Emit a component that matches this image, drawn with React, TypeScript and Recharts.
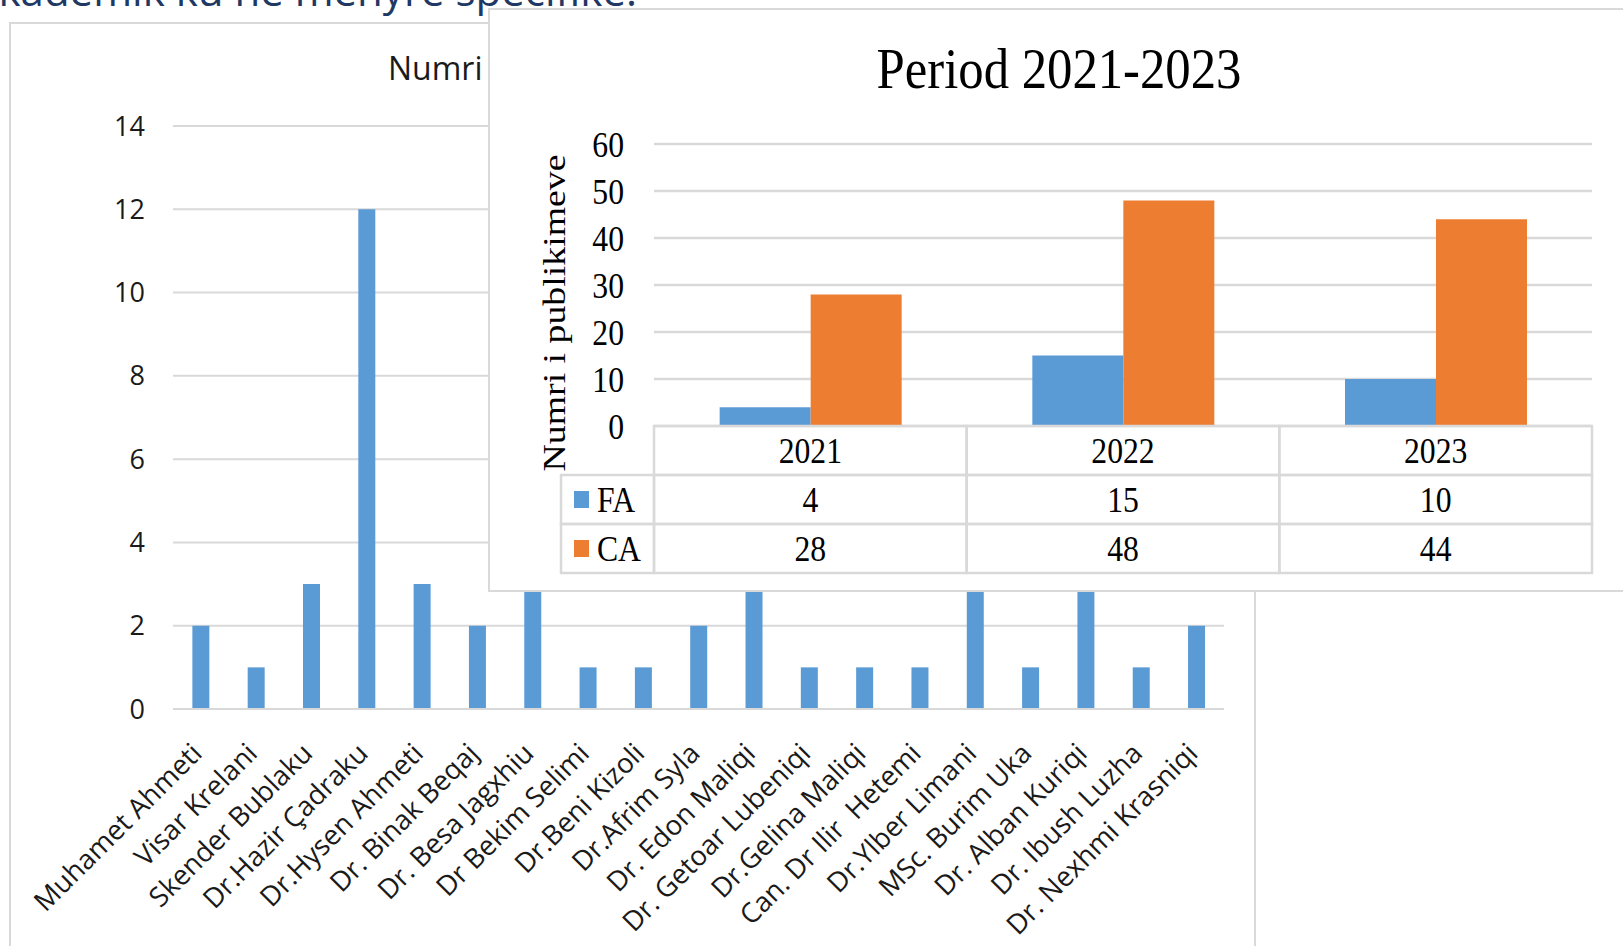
import React from 'react';
import { BarChart, Bar, XAxis, YAxis, CartesianGrid } from 'recharts';

// ---- Background chart data (publications per staff member) ----
const staffNames = [
  'Muhamet Ahmeti',
  'Visar Krelani',
  'Skender Bublaku',
  'Dr.Hazir Çadraku',
  'Dr.Hysen Ahmeti',
  'Dr. Binak Beqaj',
  'Dr. Besa Jagxhiu',
  'Dr Bekim Selimi',
  'Dr.Beni Kizoli',
  'Dr.Afrim Syla',
  'Dr. Edon Maliqi',
  'Dr. Getoar Lubeniqi',
  'Dr.Gelina Maliqi',
  'Can. Dr Ilir\u00A0 Hetemi',
  'Dr.Ylber Limani',
  'MSc. Burim Uka',
  'Dr. Alban Kuriqi',
  'Dr. Ibush Luzha',
  'Dr. Nexhmi Krasniqi',
];
const staffCounts = [2, 1, 3, 12, 3, 2, 3, 1, 1, 2, 3, 1, 1, 1, 3, 1, 3, 1, 2];
const staffTicks = [0, 2, 4, 6, 8, 10, 12, 14];

// ---- Overlay chart data (Period 2021-2023) ----
const years = ['2021', '2022', '2023'];
const faValues = [4, 15, 10];
const caValues = [28, 48, 44];
const periodTicks = [0, 10, 20, 30, 40, 50, 60];
const seriesNames = ['FA', 'CA'];

const staffData = staffNames.map((name, i) => ({ name, value: staffCounts[i] }));
const periodData = years.map((year, i) => ({ year, FA: faValues[i], CA: caValues[i] }));

const BLUE = '#5B9BD5';
const ORANGE = '#ED7D31';
const GRID = '#D9D9D9';
const TXT = '#1A1A1A';
const SANS = '"Open Sans", "DejaVu Sans", sans-serif';
const SERIF = '"Liberation Serif", "Times New Roman", serif';
const SX = 0.88; // horizontal condensation of the pasted overlay picture
const ROW_H = 49;
const LEG_W = 93;

function NameTick(props: any) {
  const { x, y, payload } = props;
  return (
    <g transform={`translate(${x + 3},${y})`}>
      <text
        textAnchor="end"
        transform="rotate(-45)"
        fontFamily={SANS}
        fontSize={27.5}
        fill={TXT}
        style={{ whiteSpace: 'pre' }}
      >
        {payload.value}
      </text>
    </g>
  );
}

function PeriodYTick(props: any) {
  const { x, y, payload } = props;
  return (
    <text
      transform={`translate(${x},${y}) scale(${SX},1)`}
      textAnchor="end"
      dy="0.35em"
      fontFamily={SERIF}
      fontSize={36}
      fill="#000"
    >
      {payload.value}
    </text>
  );
}

function CellText({ cx, cy, children, anchor = 'middle' }: any) {
  return (
    <text
      transform={`translate(${cx},${cy}) scale(${SX},1)`}
      textAnchor={anchor}
      dy="0.35em"
      fontFamily={SERIF}
      fontSize={36}
      fill="#000"
    >
      {children}
    </text>
  );
}

function TableTick(props: any) {
  const { x, y, payload, index } = props;
  const half = payload && payload.offset ? payload.offset : 938 / years.length / 2;
  const x0 = x - half;
  const w = half * 2;
  const rows = [payload.value, faValues[index], caValues[index]];
  const colors = [BLUE, ORANGE];
  return (
    <g>
      {rows.map((v, r) => (
        <g key={r}>
          <rect x={x0} y={y + r * ROW_H} width={w} height={ROW_H} fill="none" stroke={GRID} strokeWidth={2.5} />
          <CellText cx={x} cy={y + r * ROW_H + ROW_H / 2}>{v}</CellText>
        </g>
      ))}
      {index === 0 &&
        seriesNames.map((s, r) => (
          <g key={s}>
            <rect
              x={x0 - LEG_W}
              y={y + (r + 1) * ROW_H}
              width={LEG_W}
              height={ROW_H}
              fill="none"
              stroke={GRID}
              strokeWidth={2.5}
            />
            <rect x={x0 - LEG_W + 13} y={y + (r + 1) * ROW_H + 16} width={15} height={17} fill={colors[r]} />
            <CellText cx={x0 - LEG_W + 36} cy={y + (r + 1) * ROW_H + ROW_H / 2} anchor="start">
              {s}
            </CellText>
          </g>
        ))}
    </g>
  );
}

export default function App() {
  return (
    <div
      style={{
        position: 'absolute',
        left: 0,
        top: 0,
        width: 1623,
        height: 946,
        overflow: 'hidden',
        background: '#fff',
      }}
    >
      {/* background chart frame */}
      <div
        style={{
          position: 'absolute',
          left: 9,
          top: 22,
          width: 1247,
          height: 960,
          border: `2px solid ${GRID}`,
          boxSizing: 'border-box',
        }}
      />
      <div style={{ position: 'absolute', left: 0, top: 0 }}>
        <BarChart
          width={1623}
          height={946}
          data={staffData}
          margin={{ top: 126, right: 399, bottom: 0, left: 0 }}
          barCategoryGap="35%"
        >
          <CartesianGrid horizontal vertical={false} stroke={GRID} strokeWidth={2} />
          <XAxis
            dataKey="name"
            interval={0}
            height={237}
            tickLine={false}
            axisLine={{ stroke: GRID, strokeWidth: 2 }}
            tickSize={0}
            tickMargin={46}
            tick={<NameTick />}
          />
          <YAxis
            width={173}
            domain={[0, 14]}
            ticks={staffTicks}
            interval={0}
            axisLine={false}
            tickLine={false}
            tickSize={0}
            tickMargin={28}
            tick={{ fontFamily: SANS, fontSize: 27, fill: TXT }}
          />
          <Bar dataKey="value" fill={BLUE} isAnimationActive={false} />
        </BarChart>
      </div>
      <svg style={{ position: 'absolute', left: 0, top: 0 }} width={1623} height={946}>
        <text x={388} y={80} fontFamily={SANS} fontSize={32} fill={TXT}>
          Numri i publikimeve
        </text>
      </svg>

      {/* overlay picture */}
      <div
        style={{
          position: 'absolute',
          left: 488,
          top: 8,
          width: 1200,
          height: 584,
          border: `2px solid ${GRID}`,
          boxSizing: 'border-box',
          background: '#fff',
        }}
      />
      <div style={{ position: 'absolute', left: 0, top: 0 }}>
        <BarChart
          width={1623}
          height={946}
          data={periodData}
          margin={{ top: 144, right: 31, bottom: 0, left: 0 }}
          barCategoryGap="21%"
          barGap={0}
        >
          <CartesianGrid horizontal vertical={false} stroke={GRID} strokeWidth={2.5} />
          <XAxis
            dataKey="year"
            interval={0}
            height={520}
            tickLine={false}
            axisLine={false}
            tickSize={0}
            tickMargin={0}
            tick={<TableTick />}
          />
          <YAxis
            width={654}
            domain={[0, 60]}
            ticks={periodTicks}
            interval={0}
            axisLine={false}
            tickLine={false}
            tickSize={0}
            tickMargin={30}
            tick={<PeriodYTick />}
          />
          <Bar dataKey="FA" fill={BLUE} isAnimationActive={false} />
          <Bar dataKey="CA" fill={ORANGE} isAnimationActive={false} />
        </BarChart>
      </div>
      <svg style={{ position: 'absolute', left: 0, top: 0 }} width={1623} height={946}>
        <text
          transform={`translate(1059,88) scale(0.89,1)`}
          textAnchor="middle"
          fontFamily={SERIF}
          fontSize={57}
          fill="#000"
        >
          Period 2021-2023
        </text>
        <text
          transform={`translate(558,313) rotate(-90) scale(1.22,1)`}
          textAnchor="middle"
          dy="0.23em"
          fontFamily={SERIF}
          fontSize={31}
          fill="#000"
        >
          Numri i publikimeve
        </text>
        <text x={637} y={6} textAnchor="end" fontFamily={SANS} fontSize={42} fill="#1F3864">
          stafit akademik ku në mënyrë specifike.
        </text>
      </svg>
    </div>
  );
}
